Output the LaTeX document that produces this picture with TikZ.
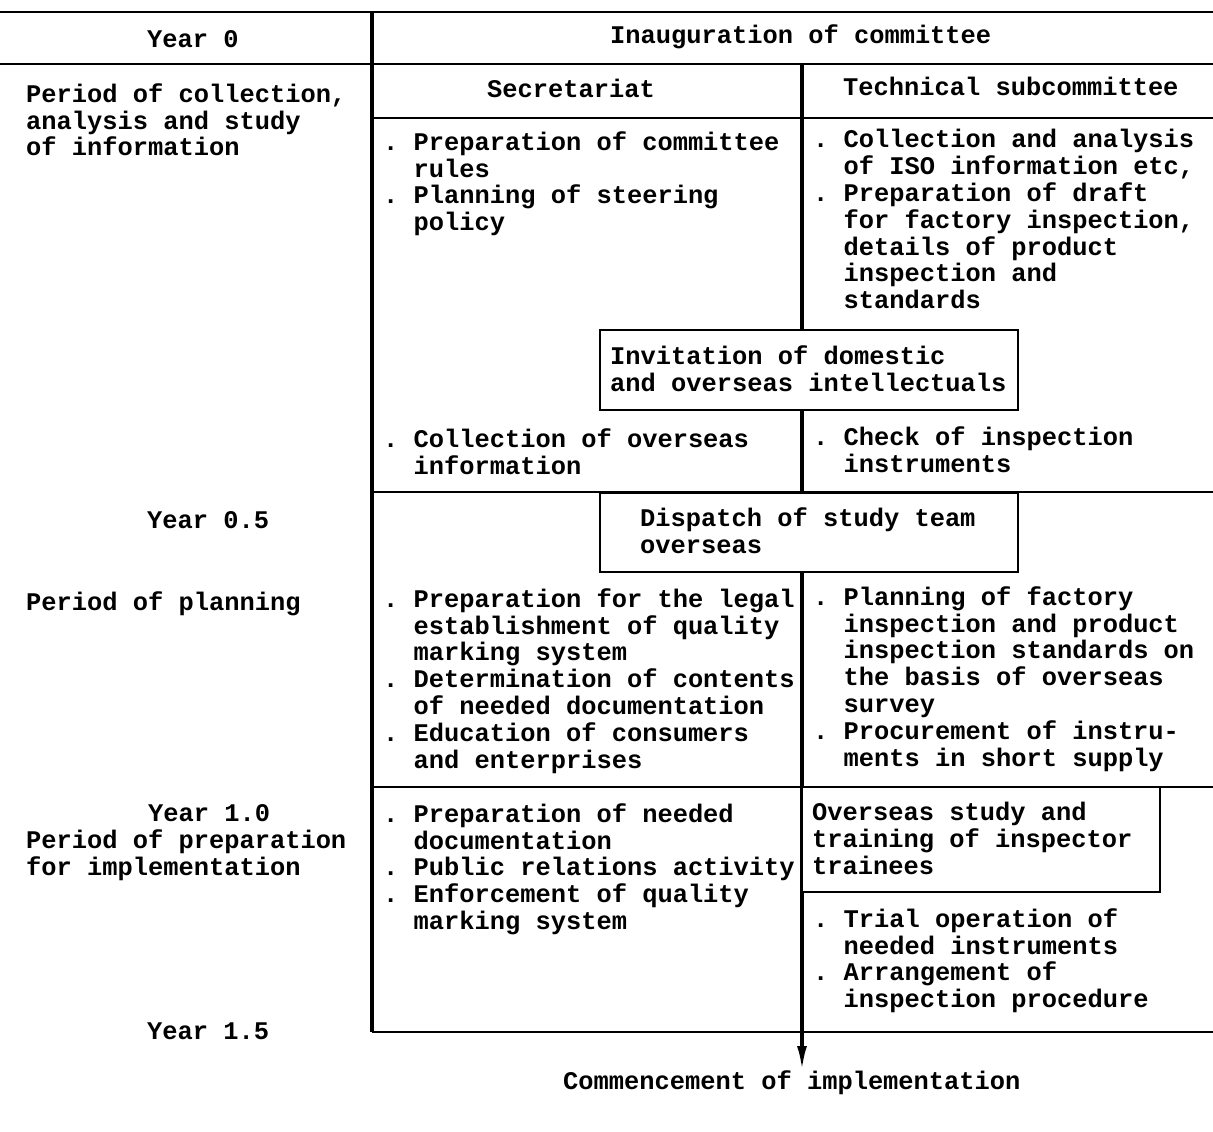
\documentclass[tikz,border=0pt]{standalone}
\usepackage{fontspec}
\setmonofont{Liberation Mono}
\usetikzlibrary{arrows.meta}
\newcommand{\ind}{\hphantom{..}}
\begin{document}
\begin{tikzpicture}[x=1pt,y=-1pt,
  tw/.style={font=\fontsize{25.4}{26.8}\selectfont\ttfamily\bfseries},
  txt/.style={tw, anchor=north west, inner sep=0pt, align=left, yshift=18.76pt, execute at begin node=\strut},
  boxnode/.style={draw, fill=white, line width=1.4pt, inner sep=0pt},
  thickline/.style={line width=3.2pt},
  thinline/.style={line width=1.3pt}]
\useasboundingbox (0,0) rectangle (1213,1132);

% grid coordinates
\coordinate (tl) at (0,12);
\coordinate (tr) at (1213,12);
\coordinate (hl) at (0,64);
\coordinate (hr) at (1213,64);
\coordinate (vtop) at (372,12);
\coordinate (vbot) at (372,1032);
\coordinate (mtop) at (802,64);
\coordinate (mend) at (802,1070);

% horizontal lines
\draw[thinline] (tl) -- (tr);
\draw[thinline] (hl) -- (hr);
\draw[thinline] (372,118) -- (1213,118);
\draw[thinline] (372,492) -- (1213,492);
\draw[thinline] (372,787) -- (1213,787);
\draw[thinline] (vbot) -- (1213,1032);

% vertical lines
\draw[thickline] (vtop) -- (vbot);
\draw[thickline,-{Latex[length=24pt,width=10pt]}] (mtop) -- (mend);

% boxes (drawn over the middle line)
\node[boxnode, minimum width=418pt, minimum height=80pt] (inv) at (809,370) {};
\node[boxnode, minimum width=418pt, minimum height=79pt] (disp) at (809,532.5) {};
\node[boxnode, minimum width=358pt, minimum height=105pt] (ovs) at (981,839.5) {};

% header texts
\node[txt] (y0) at (147,47) {Year 0};
\node[txt] (inaug) at (610,43) {Inauguration of committee};
\node[txt] (secr) at (487,97) {Secretariat};
\node[txt] (tech) at (843,95) {Technical subcommittee};

% left column
\node[txt] (p1) at (26,102) {Period of collection,\\analysis and study\\of information};
\node[txt] (y05) at (147,528) {Year 0.5};
\node[txt] (p2) at (26,610) {Period of planning};
\node[txt] (p3) at (26,823) {\ind\ind\ind\ind Year 1.0\\Period of preparation\\for implementation};
\node[txt] (y15) at (147,1039) {Year 1.5};

% secretariat column
\node[txt] (s1) at (383,150) {. Preparation of committee\\\ind rules\\. Planning of steering\\\ind policy};
\node[txt] (s2) at (383,447) {. Collection of overseas\\\ind information};
\node[txt] (s3) at (383,607) {. Preparation for the legal\\\ind establishment of quality\\\ind marking system\\. Determination of contents\\\ind of needed documentation\\. Education of consumers\\\ind and enterprises};
\node[txt] (s4) at (383,822) {. Preparation of needed\\\ind documentation\\. Public relations activity\\. Enforcement of quality\\\ind marking system};

% technical column
\node[txt] (t1) at (813,148) {. Collection and analysis\\\ind of ISO information etc,\\. Preparation of draft\\\ind for factory inspection,\\\ind details of product\\\ind inspection and\\\ind standards};
\node[txt] (t2) at (813,445) {. Check of inspection\\\ind instruments};
\node[txt] (t3) at (813,605) {. Planning of factory\\\ind inspection and product\\\ind inspection standards on\\\ind the basis of overseas\\\ind survey\\. Procurement of instru-\\\ind ments in short supply};
\node[txt] (t4) at (813,927) {. Trial operation of\\\ind needed instruments\\. Arrangement of\\\ind inspection procedure};

% box texts
\node[txt] (invt) at (610,364) {Invitation of domestic\\and overseas intellectuals};
\node[txt] (dispt) at (640,526) {Dispatch of study team\\overseas};
\node[txt] (ovst) at (812,821) {Overseas study and\\training of inspector\\trainees};

% bottom label
\node[txt] (comm) at (563,1089) {Commencement of implementation};
\end{tikzpicture}
\end{document}
